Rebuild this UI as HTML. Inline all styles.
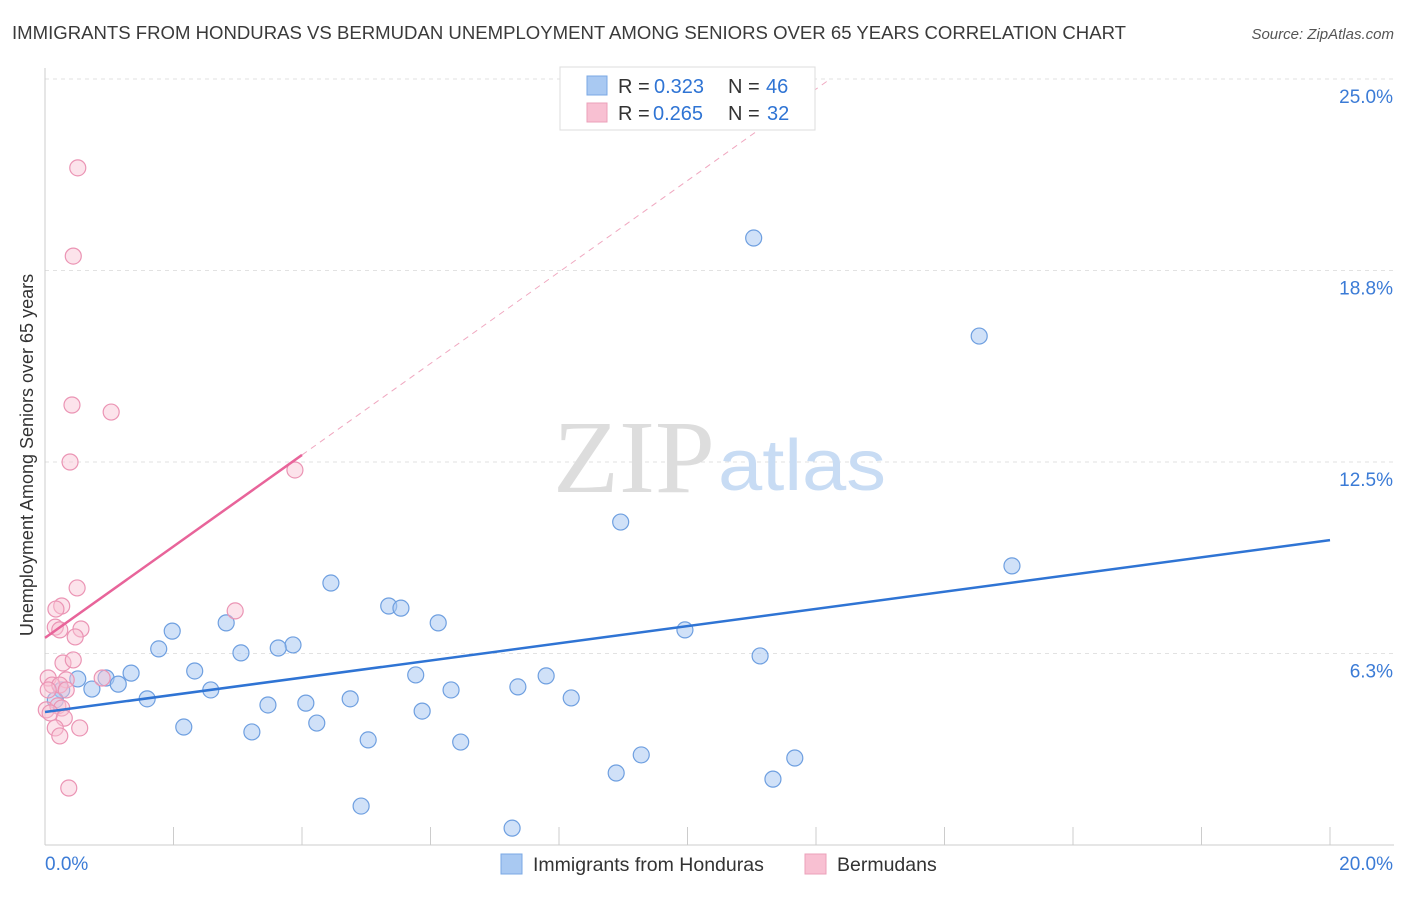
<!DOCTYPE html>
<html><head><meta charset="utf-8"><style>
body{margin:0;background:#fff;font-family:"Liberation Sans",sans-serif;}
svg text{font-family:"Liberation Sans",sans-serif;}
</style></head><body>
<svg id="c" width="1406" height="892">
<text x="12" y="39" font-size="18" fill="#3a3a3a" textLength="1114" lengthAdjust="spacingAndGlyphs">IMMIGRANTS FROM HONDURAS VS BERMUDAN UNEMPLOYMENT AMONG SENIORS OVER 65 YEARS CORRELATION CHART</text>
<text x="1394" y="39" font-size="15" fill="#555" font-style="italic" text-anchor="end">Source: ZipAtlas.com</text>
<text x="33" y="455" font-size="18" fill="#333" text-anchor="middle" transform="rotate(-90 33 455)">Unemployment Among Seniors over 65 years</text>
<g id="grid"></g>
<text x="553" y="492" font-size="104" fill="#ddd" textLength="162" lengthAdjust="spacingAndGlyphs" style="font-family:'Liberation Serif',serif">ZIP</text>
<text x="718" y="490" font-size="72" fill="#c8dcf4" textLength="168" lengthAdjust="spacingAndGlyphs">atlas</text>
<g id="marks"></g>
<g>
<rect x="560" y="67" width="255" height="63" fill="#fff" stroke="#ddd"/>
<rect x="587" y="76" width="20" height="19" fill="#a9c9f2" stroke="#7aa8e4"/>
<rect x="587" y="103" width="20" height="19" fill="#f8c0d2" stroke="#eba0ba"/>
<text y="93" font-size="20" fill="#333"><tspan x="618">R =</tspan><tspan x="654" fill="#2f74d4">0.323</tspan><tspan x="728">N =</tspan><tspan x="766" fill="#2f74d4">46</tspan></text>
<text y="120" font-size="20" fill="#333"><tspan x="618">R =</tspan><tspan x="653" fill="#2f74d4">0.265</tspan><tspan x="728">N =</tspan><tspan x="767" fill="#2f74d4">32</tspan></text>
</g>
<g>
<rect x="501" y="854" width="21" height="20" fill="#a9c9f2" stroke="#7aa8e4"/>
<text x="533" y="871" font-size="19.5" fill="#333">Immigrants from Honduras</text>
<rect x="805" y="854" width="21" height="20" fill="#f8c0d2" stroke="#eba0ba"/>
<text x="837" y="871" font-size="19.5" fill="#333">Bermudans</text>
</g>
</svg>
<script>
const yTicks=[6.25,12.5,18.75,25];
const yTickLabels=["6.3%","12.5%","18.8%","25.0%"];
const xTickLabels=["0.0%","20.0%"];
const blueX=[11.03,14.54,8.96,15.05,4.45,5.35,5.54,6.12,2.82,1.98,9.96,3.86,3.63,1.77,3.05,11.13,2.33,1.34,0.95,5.77,7.80,0.51,1.14,0.73,2.58,6.32,7.36,0.26,1.59,4.75,8.19,4.06,3.47,0.16,5.87,4.23,2.16,3.22,5.03,6.47,9.28,11.67,8.89,11.33,4.92,7.27];
const blueY=[19.81,16.61,10.54,9.11,8.55,7.80,7.73,7.25,7.25,6.98,7.02,6.53,6.43,6.40,6.27,6.17,5.68,5.61,5.45,5.55,5.52,5.42,5.25,5.09,5.06,5.06,5.16,5.06,4.77,4.77,4.80,4.63,4.57,4.73,4.37,3.98,3.85,3.69,3.43,3.36,2.94,2.84,2.35,2.15,1.27,0.55];
const pinkX=[0.51,0.44,0.42,1.03,0.39,3.89,0.50,0.26,0.17,2.96,0.16,0.23,0.56,0.47,0.28,0.44,0.33,0.05,0.89,0.11,0.23,0.05,0.02,0.20,0.26,0.08,0.30,0.16,0.54,0.23,0.37,0.33];
const pinkY=[22.10,19.22,14.36,14.13,12.50,12.24,8.39,7.80,7.70,7.64,7.11,7.02,7.05,6.79,5.94,6.04,5.39,5.45,5.45,5.22,5.22,5.06,4.41,4.54,4.47,4.31,4.14,3.82,3.82,3.56,1.86,5.06];
const blueFit=[4.34,9.95];
const pinkFit=[6.76,12.73];
const pinkFitEnd=4;
const NS="http://www.w3.org/2000/svg";
const X=v=>45+v/20*1285, Y=v=>845-v/25*766;
function mk(t,a,p){const e=document.createElementNS(NS,t);for(const k in a)e.setAttribute(k,a[k]);p.appendChild(e);return e;}
const g=document.getElementById('grid'), m=document.getElementById('marks');
yTicks.forEach((t,i)=>{
 const l=mk('line',{x1:45,x2:1394,y1:Y(t),y2:Y(t),stroke:'#e2e2e2','stroke-dasharray':'4,4'},g);
 
 
 const tx=mk('text',{x:1393,y:Y(t)+24,'font-size':19,fill:'#3b7bd6','text-anchor':'end'},g);
 tx.textContent=yTickLabels[i];
 
 
});
const ax=mk('line',{x1:45,x2:1394,y1:845,y2:845,stroke:'#ccc'},g);


const ay=mk('line',{x1:45,x2:45,y1:68,y2:845,stroke:'#ccc'},g);


for(let i=0;i<=10;i++){const t=mk('line',{x1:X(i*2),x2:X(i*2),y1:827,y2:845,stroke:'#ccc'},g);
 
 }
[[0,'start',45],[20,'end',1393]].forEach((d,i)=>{const t=mk('text',{x:d[2],y:870,'font-size':19,fill:'#3b7bd6','text-anchor':d[1]},g);t.textContent=xTickLabels[i];
 
 });
blueX.forEach((x,i)=>{const c=mk('circle',{cx:X(x),cy:Y(blueY[i]),r:8,fill:'rgba(169,201,242,0.55)',stroke:'#6e9fe0','stroke-width':1.2},m);
 
 });
pinkX.forEach((x,i)=>{const c=mk('circle',{cx:X(x),cy:Y(pinkY[i]),r:8,fill:'rgba(248,192,210,0.45)',stroke:'#eb94b4','stroke-width':1.2},m);
 
 });
const slope=(pinkFit[1]-pinkFit[0])/pinkFitEnd;
const xTop=(25-pinkFit[0])/slope;
const d1=mk('line',{x1:X(pinkFitEnd),y1:Y(pinkFit[1]),x2:X(xTop),y2:Y(25),stroke:'#f0a8c0','stroke-dasharray':'6,5','stroke-width':1},m);


const pl=mk('line',{x1:X(0),y1:Y(pinkFit[0]),x2:X(pinkFitEnd),y2:Y(pinkFit[1]),stroke:'#e8649a','stroke-width':2.5},m);


const bl=mk('line',{x1:X(0),y1:Y(blueFit[0]),x2:X(20),y2:Y(blueFit[1]),stroke:'#2f74d4','stroke-width':2.5},m);


</script>
</body></html>
